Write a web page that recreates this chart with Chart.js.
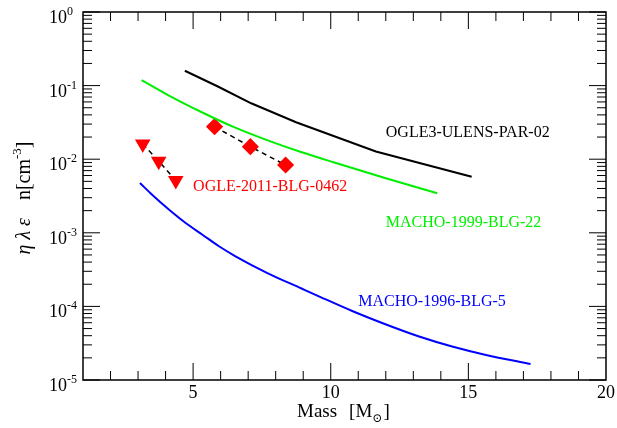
<!DOCTYPE html>
<html>
<head>
<meta charset="UTF-8">
<title>Mass vs eta lambda epsilon n</title>
<script src="https://cdn.jsdelivr.net/npm/chart.js"></script>
<style>body{margin:0;background:#fff}</style>
</head>
<body>
<canvas id="massChart" width="617" height="428"></canvas>
<script>
// curves: mass [Msun] and eta*lambda*eps*n [cm^-3]
const ogle3Mass = [4.70, 5.90, 7.11, 8.74, 11.64, 15.12];
const ogle3Val  = [0.159, 0.0972, 0.0575, 0.0318, 0.0127, 0.00578];

const macho99Mass = [3.13, 4.09, 5.30, 6.51, 7.71, 8.92, 10.13, 12.00, 13.87];
const macho99Val  = [0.119, 0.0745, 0.0438, 0.0270, 0.0180, 0.0125, 0.0090, 0.0055, 0.00345];

const macho96Mass = [3.07, 3.53, 4.13, 4.73, 5.34, 5.94, 6.54, 7.70, 8.94, 9.59, 10.78, 12.01, 13.21, 14.41, 15.64, 17.26];
const macho96Val  = [0.00475, 0.00324, 0.00206, 0.00136, 0.000942, 0.000656, 0.00048, 0.000284, 0.000175,
                     0.000136, 0.0000866, 0.0000568, 0.000039, 0.0000285, 0.0000219, 0.0000165];

// OGLE-2011-BLG-0462 points
const triMass = [3.17, 3.75, 4.37];
const triVal  = [0.0161, 0.0094, 0.00514];
const diaMass = [5.78, 7.08, 8.36];
const diaVal  = [0.0277, 0.0148, 0.00834];

// axes
const xMin = 1, xMax = 20;
const xTicks = [5, 10, 15, 20];
const yExps = [0, -1, -2, -3, -4, -5];

// curve labels: [text, mass, value, colour]
const curveLabels = [
  ['OGLE3-ULENS-PAR-02', 12, 0.02, '#000'],
  ['OGLE-2011-BLG-0462', 5, 0.0037, '#ff0000'],
  ['MACHO-1999-BLG-22', 12, 0.0012, '#00ee00'],
  ['MACHO-1996-BLG-5', 11, 0.0001, '#0000ff']
];

const pts = (xs, ys) => xs.map((x, i) => ({x: x, y: ys[i]}));
const serif = '"Liberation Serif", "DejaVu Serif", serif';

const frame = {
  id: 'frame',
  afterDraw(chart) {
    const {ctx, chartArea: a, scales: {x, y}} = chart;
    ctx.save();
    const line = (x1, y1, x2, y2) => { ctx.beginPath(); ctx.moveTo(x1, y1); ctx.lineTo(x2, y2); ctx.stroke(); };

    ctx.strokeStyle = '#000';
    ctx.lineWidth = 1.5;
    ctx.strokeRect(a.left, a.top, a.right - a.left, a.bottom - a.top);

    // x ticks, inward on bottom and top
    ctx.lineWidth = 1;
    for (let m = xMin + 1; m < xMax; m++) {
      const px = x.getPixelForValue(m);
      const len = m % 5 === 0 ? 17 : 9;
      line(px, a.bottom, px, a.bottom - len);
      line(px, a.top, px, a.top + len);
    }
    // y ticks, log decades with minor 2..9
    for (const e of yExps) {
      const py = y.getPixelForValue(Math.pow(10, e));
      line(a.left, py, a.left + 17, py);
      line(a.right, py, a.right - 17, py);
      if (e === 0) continue;
      for (let k = 2; k <= 9; k++) {
        const pm = y.getPixelForValue(k * Math.pow(10, e));
        line(a.left, pm, a.left + 9, pm);
        line(a.right, pm, a.right - 9, pm);
      }
    }

    // tick labels
    ctx.fillStyle = '#000';
    ctx.font = '18px ' + serif;
    ctx.textAlign = 'center';
    ctx.textBaseline = 'alphabetic';
    for (const t of xTicks) ctx.fillText(String(t), x.getPixelForValue(t), a.bottom + 18);
    for (const e of yExps) {
      const py = y.getPixelForValue(Math.pow(10, e));
      ctx.font = '18px ' + serif;
      ctx.textAlign = 'right';
      ctx.fillText('10', a.left - 16, py + 11);
      ctx.font = '12px ' + serif;
      ctx.textAlign = 'left';
      ctx.fillText(String(e), a.left - 16, py + 3);
    }

    // curve labels
    ctx.font = '16px ' + serif;
    ctx.textAlign = 'left';
    for (const [t, mx, my, col] of curveLabels) {
      ctx.fillStyle = col;
      ctx.fillText(t, x.getPixelForValue(mx), y.getPixelForValue(my));
    }

    // x title: Mass  [M_sun]
    ctx.fillStyle = '#000';
    let cx = 297;
    const by = 417;
    ctx.font = '19px ' + serif;
    ctx.fillText('Mass', cx, by);
    cx += ctx.measureText('Mass').width + 12;
    ctx.fillText('[M', cx, by);
    cx += ctx.measureText('[M').width;
    ctx.font = '12px ' + serif;
    ctx.fillText('\u2299', cx, by + 5);
    cx += ctx.measureText('\u2299').width + 1;
    ctx.font = '19px ' + serif;
    ctx.fillText(']', cx, by);

    // y title, rotated
    ctx.translate(30, 198);
    ctx.rotate(-Math.PI / 2);
    const g = '\u03b7 \u03bb \u03b5';
    ctx.font = '20px ' + serif;
    const w1 = ctx.measureText('n[cm').width;
    ctx.font = '13px ' + serif;
    const w2 = ctx.measureText('-3').width;
    ctx.font = '20px ' + serif;
    const w3 = ctx.measureText(']').width;
    ctx.font = 'italic 20px ' + serif;
    const wg = ctx.measureText(g).width;
    const gap = 18;
    let lx = -(wg + gap + w1 + w2 + w3) / 2;
    ctx.fillText(g, lx, 0);
    lx += wg + gap;
    ctx.font = '20px ' + serif;
    ctx.fillText('n[cm', lx, 0);
    lx += w1;
    ctx.font = '13px ' + serif;
    ctx.fillText('-3', lx, -9);
    lx += w2;
    ctx.font = '20px ' + serif;
    ctx.fillText(']', lx, 0);
    ctx.restore();
  }
};

new Chart(document.getElementById('massChart').getContext('2d'), {
  type: 'scatter',
  data: {
    datasets: [
      {data: pts(ogle3Mass, ogle3Val), showLine: true, borderColor: '#000', borderWidth: 2, pointRadius: 0},
      {data: pts(macho99Mass, macho99Val), showLine: true, borderColor: '#00ee00', borderWidth: 2, pointRadius: 0, cubicInterpolationMode: 'monotone'},
      {data: pts(macho96Mass, macho96Val), showLine: true, borderColor: '#0000ff', borderWidth: 2, pointRadius: 0, cubicInterpolationMode: 'monotone'},
      {data: pts(triMass, triVal), showLine: true, borderColor: '#000', borderWidth: 1.5, borderDash: [5, 4],
       pointStyle: 'triangle', rotation: 180, pointRadius: 7.5, pointBackgroundColor: '#ff0000', pointBorderColor: '#ff0000'},
      {data: pts(diaMass, diaVal), showLine: true, borderColor: '#000', borderWidth: 1.5, borderDash: [5, 4],
       pointStyle: 'rectRot', pointRadius: 7.5, pointBackgroundColor: '#ff0000', pointBorderColor: '#ff0000'}
    ]
  },
  options: {
    responsive: false,
    animation: false,
    layout: {padding: {left: 83, right: 11, top: 12, bottom: 48}},
    scales: {
      x: {type: 'linear', min: xMin, max: xMax, display: false},
      y: {type: 'logarithmic', min: 1e-5, max: 1, display: false}
    },
    plugins: {legend: {display: false}, tooltip: {enabled: false}}
  },
  plugins: [frame]
});
</script>
</body>
</html>
